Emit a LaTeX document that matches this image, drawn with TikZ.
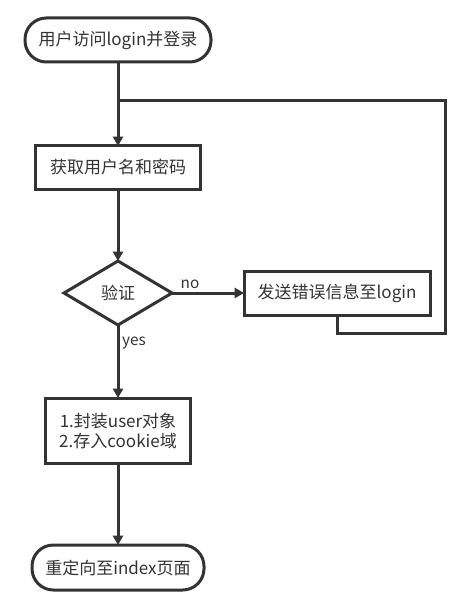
\documentclass[tikz,border=0pt]{standalone}
\usepackage{fontspec}
\setmainfont{Noto Sans CJK SC}
\usepackage{xcolor}
\usepackage{tikz}
\usetikzlibrary{shapes.geometric, arrows.meta, positioning}
\definecolor{ink}{HTML}{333333}
\tikzset{
  terminal/.style={rectangle, rounded corners=16pt, draw=ink, fill=white, text=ink,
                   line width=2.25pt, inner sep=0pt, outer sep=0pt, align=center,
                   font=\fontsize{12.75pt}{15pt}\selectfont},
  stepbox/.style={rectangle, draw=ink, fill=white, text=ink,
                  line width=2.25pt, inner sep=0pt, outer sep=0pt, align=center,
                  font=\fontsize{12.75pt}{15pt}\selectfont},
  decision/.style={diamond, draw=ink, fill=white, text=ink,
                   line width=2.25pt, inner sep=0pt, outer sep=0pt,
                   minimum width=81pt, minimum height=48pt,
                   font=\fontsize{12.75pt}{15pt}\selectfont},
  lbl/.style={text=ink, inner sep=2pt, font=\fontsize{11.5pt}{13pt}\selectfont},
  arrow/.style={-{Triangle[length=7pt, width=7.5pt]}, line width=2.25pt, draw=ink},
  line/.style={line width=2.25pt, draw=ink, line join=miter},
}

\begin{document}
\begin{tikzpicture}

  \useasboundingbox (0,0) rectangle (347.25pt,-459.75pt);

  % --- Start ---
  \node[terminal, minimum width=139.5pt, minimum height=33pt] (start) at (88.5pt,-30pt)
        {用户访问login并登录};
  \coordinate[below=29.25pt of start] (join);

  % --- Read credentials ---
  \node[stepbox, minimum width=123.75pt, minimum height=32.25pt, below=63pt of start] (fetch)
        {获取用户名和密码};

  % --- Check ---
  \node[decision, below=54pt of fetch] (check) {验证};

  % --- Failure branch ---
  \node[stepbox, minimum width=139.5pt, minimum height=33pt, right=54pt of check] (err)
        {发送错误信息至login};

  % --- Success branch ---
  \node[stepbox, minimum width=108.75pt, minimum height=48.75pt, below=54.75pt of check] (save)
        {1.封装user对象\\2.存入cookie域};

  % --- End ---
  \node[terminal, minimum width=129pt, minimum height=33.75pt, below=61.5pt of save] (finish)
        {重定向至index页面};

  % --- Arrows ---
  \draw[arrow] (start) -- (fetch);
  \draw[arrow] (fetch) -- (check);
  \draw[arrow] (check) -- node[lbl, above, pos=0.25] {no} (err);
  \draw[arrow] (check) -- node[lbl, right, pos=0.24] {yes} (save);
  \draw[arrow] (save)  -- (finish);
  \draw[line] (err.south) -- ++(0,-13.5pt) -| ([xshift=11.25pt]err.east |- join) -- (join);

\end{tikzpicture}
\end{document}
